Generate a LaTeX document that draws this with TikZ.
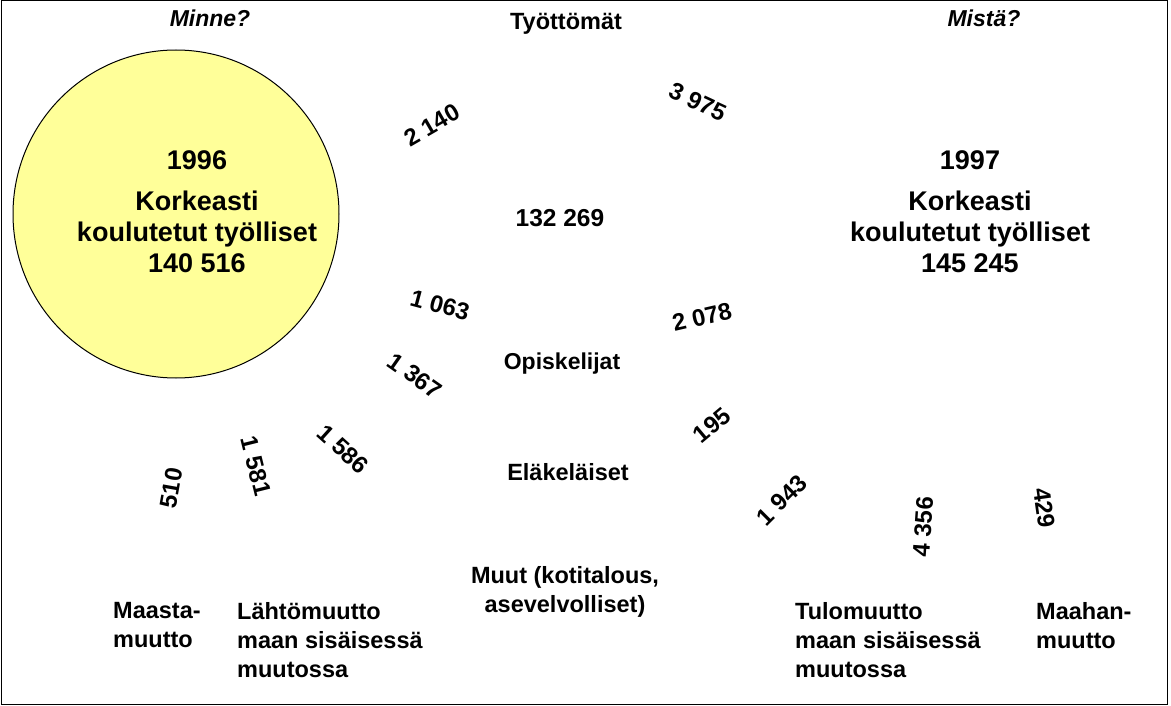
\documentclass[tikz,border=0pt]{standalone}
\usepackage{fontspec}
\setmainfont{Liberation Sans}
\definecolor{circyellow}{HTML}{FFFF99}
\begin{document}
\begin{tikzpicture}[x=1pt,y=-1pt,
  lbl/.style={font=\fontsize{23.5}{29}\selectfont\bfseries, inner sep=0pt},
  big/.style={font=\fontsize{27}{31}\selectfont\bfseries, inner sep=0pt, align=center},
  num/.style={font=\fontsize{24}{26}\selectfont\bfseries, inner sep=0pt},
  head/.style={font=\fontsize{23}{26}\selectfont\bfseries\itshape, inner sep=0pt},
  multi/.style={lbl, align=left, anchor=north west}]
\useasboundingbox (0,0) rectangle (1171,706);
\draw[line width=1pt] (1.5,0.8) rectangle (1167.5,704.5);

% circle
\draw[fill=circyellow, line width=1pt] (176,214) ellipse [x radius=163, y radius=164];

\node[head] (minne) at (210,18) {Minne?};
\node[lbl] (tyott) at (566,24) {Työttömät};
\node[head] (mista) at (984,18) {Mistä?};

\node[big] (y96) at (197,160) {1996};
\node[big] (left) at (197,232) {Korkeasti\\koulutetut työlliset\\140 516};
\node[big] (y97) at (970,160) {1997};
\node[big] (right) at (970,232) {Korkeasti\\koulutetut työlliset\\145 245};

\node[num, font=\fontsize{24.5}{26}\selectfont\bfseries] (stay) at (560,218) {132 269};

\node[num, rotate=30] (n2140) at (432,125) {2 140};
\node[num, rotate=-25] (n3975) at (698,102) {3 975};
\node[num, rotate=-15] (n1063) at (440,305) {1 063};
\node[num, rotate=13] (n2078) at (702,317) {2 078};
\node[lbl, font=\fontsize{23}{29}\selectfont\bfseries] (opis) at (562,364) {Opiskelijat};
\node[num, rotate=-35] (n1367) at (415,376) {1 367};
\node[num, rotate=40] (n195) at (712,425) {195};
\node[lbl] (elake) at (568,472) {Eläkeläiset};
\node[num, rotate=-42] (n1586) at (343,449) {1 586};
\node[num, rotate=-76] (n1581) at (256,466) {1 581};
\node[num, rotate=80] (n510) at (171,488) {510};
\node[num, rotate=45] (n1943) at (782,500) {1 943};
\node[num, rotate=86] (n4356) at (923,527) {4 356};
\node[num, rotate=-82] (n429) at (1044,508) {429};

\node[lbl, align=center] (muut) at (565,592) {Muut (kotitalous,\\asevelvolliset)};
\node[multi] (maasta) at (113,602) {Maasta-\\muutto};
\node[multi] (lahto) at (237,602) {Lähtömuutto\\maan sisäisessä\\muutossa};
\node[multi] (tulo) at (795,602) {Tulomuutto\\maan sisäisessä\\muutossa};
\node[multi] (maahan) at (1036,602) {Maahan-\\muutto};
\end{tikzpicture}
\end{document}
